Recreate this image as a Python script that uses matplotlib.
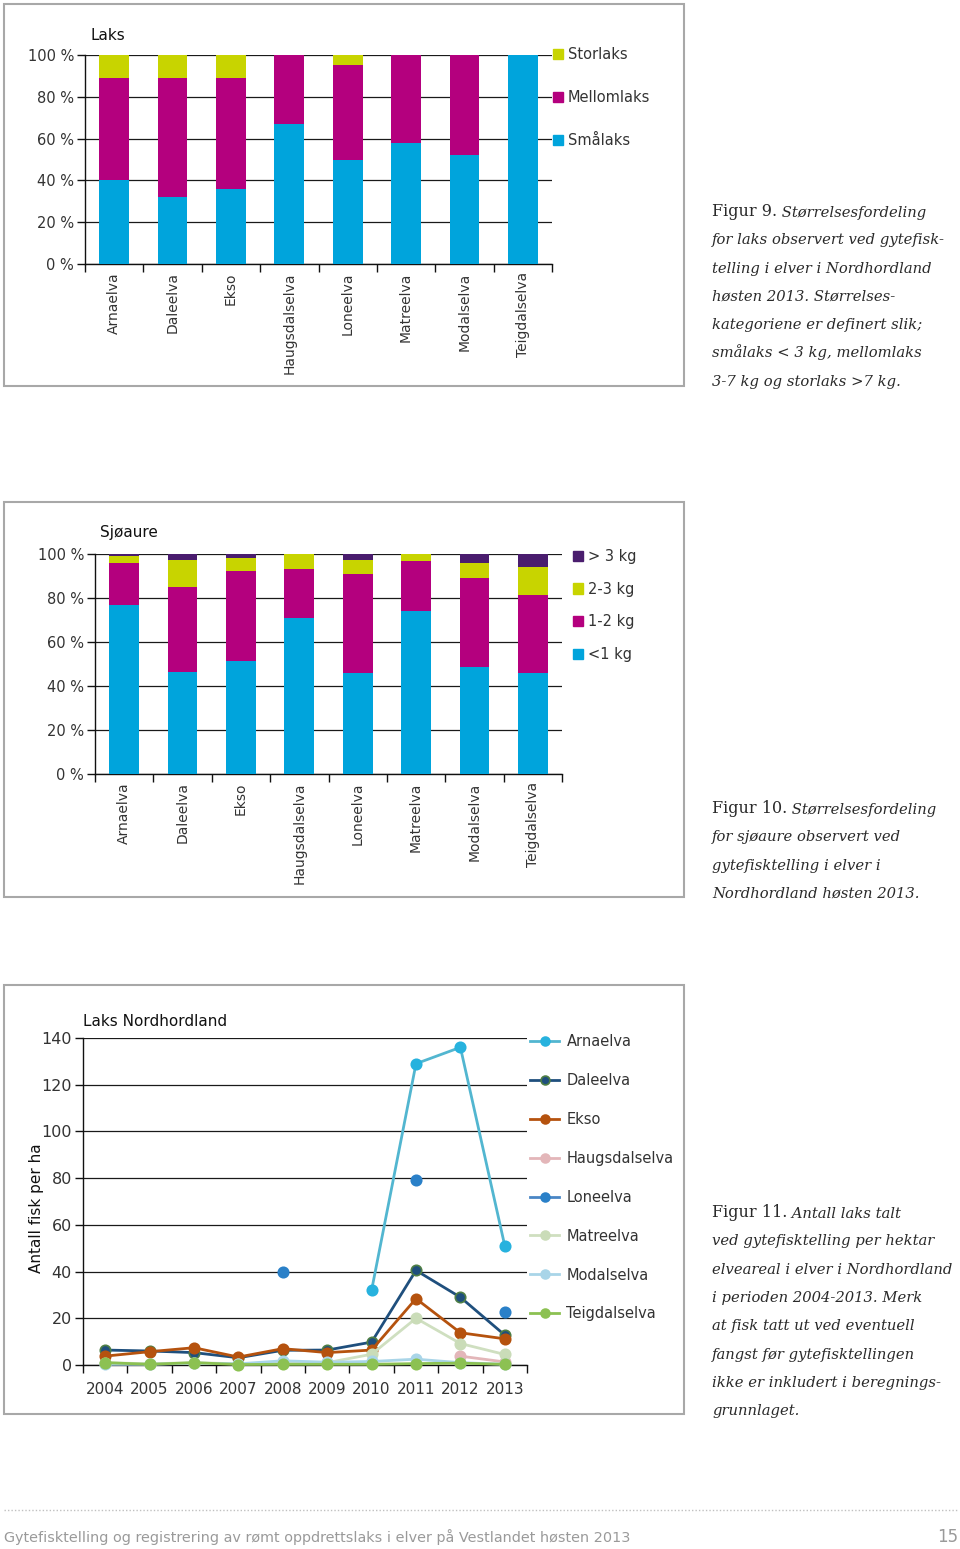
import numpy as np
import matplotlib
matplotlib.use("Agg")
import matplotlib.pyplot as plt
from matplotlib.patches import Patch, Rectangle
from matplotlib.lines import Line2D

plt.rcParams['font.family'] = ['DejaVu Sans']

# Figur 9 - laks
rivers = ["Arnaelva", "Daleelva", "Ekso", "Haugsdalselva",
          "Loneelva", "Matreelva", "Modalselva", "Teigdalselva"]
smalaks = [40, 32, 36, 67, 50, 58, 52, 100]
mellomlaks = [49, 57, 53, 33, 45, 42, 48, 0]
storlaks = [11, 11, 11, 0, 5, 0, 0, 0]

# Figur 10 - sjøaure
under1 = [76.7, 46.5, 51.5, 70.8, 45.8, 74.1, 48.5, 45.8]
kg1_2 = [19.1, 38.7, 41.0, 22.6, 45.2, 22.6, 40.8, 35.4]
kg2_3 = [3.3, 12.2, 5.8, 6.6, 6.4, 3.3, 6.5, 12.9]
over3 = [0.9, 2.6, 1.7, 0.0, 2.6, 0.0, 4.2, 5.9]

# Figur 11 - antall laks per ha
years = ["2004", "2005", "2006", "2007", "2008", "2009", "2010", "2011", "2012", "2013"]
nan = np.nan
arnaelva = [nan, nan, nan, nan, nan, nan, 32, 129, 136, 51]
daleelva = [6.4, 6.0, 5.3, 3.1, 6.3, 6.4, 9.8, 40.5, 29, 12.8]
ekso = [3.8, 5.7, 7.4, 3.4, 7.0, 5.3, 6.4, 28.4, 13.8, 11.2]
haugsdalselva = [nan, nan, nan, nan, nan, nan, nan, nan, 3.8, 1.3]
loneelva = [nan, nan, nan, nan, 40, nan, nan, 79.4, nan, 22.8]
matreelva = [1.0, 0.5, 1.0, 0.5, 1.0, 1.0, 4.6, 20, 9.2, 4.5]
modalselva = [0.3, 0.3, 0.8, 0.5, 1.8, 1.2, 1.5, 2.5, 1.0, 0.3]
teigdalselva = [1.0, 0.3, 1.0, 0.2, 0.3, 0.3, 0.3, 0.6, 0.8, 0.3]

W, H = 960, 1549
fig = plt.figure(figsize=(W / 100, H / 100), dpi=100)


def fx(x):
    return x / W


def fy(y):
    return 1 - y / H


def add_ax(left, top, right, bottom):
    return fig.add_axes([fx(left), fy(bottom), (right - left) / W, (bottom - top) / H])


def style_axes(ax, ncat):
    ax.set_xlim(-0.5, ncat - 0.5)
    for s in ["top", "right"]:
        ax.spines[s].set_visible(False)
    for s in ["left", "bottom"]:
        ax.spines[s].set_color("#111")
        ax.spines[s].set_linewidth(1.0)
    ax.yaxis.grid(True, color="#1a1a1a", lw=0.9)
    ax.set_axisbelow(True)
    ax.set_xticks(np.arange(-0.5, ncat, 1), minor=True)
    ax.tick_params(axis="x", which="minor", length=6, width=1, color="#111")
    ax.tick_params(axis="y", length=6, width=1, color="#111", labelsize=10.5,
                   labelcolor="#333", pad=2)


txt = "#333333"
c_blue, c_mag, c_yel, c_pur = "#00a4dc", "#b4007e", "#c8d400", "#4a1d6e"

# ---- chart 1
ax1 = add_ax(85, 55, 552, 264)
x = np.arange(len(rivers))
ax1.bar(x, smalaks, 0.51, color=c_blue, zorder=3)
ax1.bar(x, mellomlaks, 0.51, bottom=smalaks, color=c_mag, zorder=3)
ax1.bar(x, storlaks, 0.51, bottom=np.add(smalaks, mellomlaks), color=c_yel, zorder=3)
style_axes(ax1, len(rivers))
ax1.set_ylim(0, 100)
ax1.set_yticks(range(0, 101, 20))
ax1.set_yticklabels([f"{v} %" for v in range(0, 101, 20)])
ax1.set_xticks(x)
ax1.set_xticklabels(rivers, rotation=90, fontsize=10, color=txt)
ax1.tick_params(axis="x", which="major", length=0, pad=6)
ax1.text(fx(91), fy(36), "Laks", transform=fig.transFigure, fontsize=11,
         va="center", ha="left", color="#111")
ax1.legend([Patch(color=c_yel), Patch(color=c_mag), Patch(color=c_blue)],
           ["Storlaks", "Mellomlaks", "Smålaks"],
           loc="upper left", bbox_to_anchor=(fx(553), fy(47)),
           bbox_transform=fig.transFigure, frameon=False, fontsize=10.5,
           handlelength=0.7, handleheight=0.7, handletextpad=0.3,
           labelspacing=1.92, borderpad=0, borderaxespad=0, labelcolor=txt)

# ---- chart 2
ax2 = add_ax(95, 554, 562, 774)
ax2.bar(x, under1, 0.51, color=c_blue, zorder=3)
b = np.array(under1)
ax2.bar(x, kg1_2, 0.51, bottom=b, color=c_mag, zorder=3)
b = b + np.array(kg1_2)
ax2.bar(x, kg2_3, 0.51, bottom=b, color=c_yel, zorder=3)
b = b + np.array(kg2_3)
ax2.bar(x, over3, 0.51, bottom=b, color=c_pur, zorder=3)
style_axes(ax2, len(rivers))
ax2.set_ylim(0, 100)
ax2.set_yticks(range(0, 101, 20))
ax2.set_yticklabels([f"{v} %" for v in range(0, 101, 20)])
ax2.set_xticks(x)
ax2.set_xticklabels(rivers, rotation=90, fontsize=10, color=txt)
ax2.tick_params(axis="x", which="major", length=0, pad=6)
ax2.text(fx(100), fy(533), "Sjøaure", transform=fig.transFigure, fontsize=11,
         va="center", ha="left", color="#111")
ax2.legend([Patch(color=c_pur), Patch(color=c_yel), Patch(color=c_mag), Patch(color=c_blue)],
           ["> 3 kg", "2-3 kg", "1-2 kg", "<1 kg"],
           loc="upper left", bbox_to_anchor=(fx(573), fy(549)),
           bbox_transform=fig.transFigure, frameon=False, fontsize=10.5,
           handlelength=0.7, handleheight=0.7, handletextpad=0.3,
           labelspacing=1.21, borderpad=0, borderaxespad=0, labelcolor=txt)

# ---- chart 3
ax3 = add_ax(83, 1038, 527, 1365)
series = [
    ("Arnaelva", arnaelva, "#52b6d0", "#27b2de", "#27b2de"),
    ("Daleelva", daleelva, "#1f4f7d", "#1f4f7d", "#4f7f45"),
    ("Ekso", ekso, "#b5520e", "#b5520e", "#b5520e"),
    ("Haugsdalselva", haugsdalselva, "#e3b6b9", "#e3b6b9", "#e3b6b9"),
    ("Loneelva", loneelva, "#4a86c5", "#2a80c8", "#2a80c8"),
    ("Matreelva", matreelva, "#cfdfc0", "#cadcb8", "#cadcb8"),
    ("Modalselva", modalselva, "#a9d5e8", "#a9d5e8", "#a9d5e8"),
    ("Teigdalselva", teigdalselva, "#8cc152", "#8cc152", "#8cc152"),
]
xi = np.arange(len(years))
for name, vals, lc, mc, ec in series:
    ax3.plot(xi, vals, color=lc, lw=2.0, marker="o", markersize=7.5,
             markerfacecolor=mc, markeredgecolor=ec, markeredgewidth=1.2,
             label=name, clip_on=False, zorder=3)
style_axes(ax3, len(years))
ax3.set_ylim(0, 140)
ax3.set_yticks(range(0, 141, 20))
ax3.set_xticks(xi)
ax3.set_xticklabels(years, fontsize=11, color=txt)
ax3.tick_params(axis="x", which="major", length=0, pad=12)
ax3.tick_params(axis="y", labelsize=11.5)
fig.text(fx(37), fy(1208), "Antall fisk per ha", rotation=90, ha="center",
         va="center", fontsize=11, color="#111")
ax3.text(fx(83), fy(1022), "Laks Nordhordland", transform=fig.transFigure,
         fontsize=11, va="center", ha="left", color="#111")
ax3.legend(loc="upper left", bbox_to_anchor=(fx(530), fy(1034)),
           bbox_transform=fig.transFigure, frameon=False, fontsize=10.5,
           handlelength=2.0, handletextpad=0.5, labelspacing=1.64,
           borderpad=0, borderaxespad=0, labelcolor=txt, markerscale=0.85)

# ---- panel frames
for top, bottom in [(4, 386), (502, 897), (985, 1414)]:
    fig.add_artist(Rectangle((fx(4), fy(bottom)), 680 / W, (bottom - top) / H,
                             transform=fig.transFigure, fill=False,
                             ec="#a8a8a8", lw=1.5))

# ---- captions
captions = [
    (216, "Figur 9.", ["Størrelsesfordeling",
                       "for laks observert ved gytefisk-",
                       "telling i elver i Nordhordland",
                       "høsten 2013. Størrelses-",
                       "kategoriene er definert slik;",
                       "smålaks < 3 kg, mellomlaks",
                       "3-7 kg og storlaks >7 kg."]),
    (813, "Figur 10.", ["Størrelsesfordeling",
                        "for sjøaure observert ved",
                        "gytefisktelling i elver i",
                        "Nordhordland høsten 2013."]),
    (1217, "Figur 11.", ["Antall laks talt",
                         "ved gytefisktelling per hektar",
                         "elveareal i elver i Nordhordland",
                         "i perioden 2004-2013. Merk",
                         "at fisk tatt ut ved eventuell",
                         "fangst før gytefisktellingen",
                         "ikke er inkludert i beregnings-",
                         "grunnlaget."]),
]
cap_kw = dict(fontsize=10.6, color="#2a2a2a", family="DejaVu Serif")
for y0, head, lines in captions:
    t = fig.text(fx(712), fy(y0), head, va="baseline", ha="left",
                 fontsize=11.5, color="#2a2a2a", family="DejaVu Serif")
    ax3.annotate(" " + lines[0], xy=(1, 0), xycoords=t, va="bottom",
                 ha="left", style="italic", **cap_kw)
    for i, ln in enumerate(lines[1:], start=1):
        fig.text(fx(712), fy(y0 + i * 28.3), ln, va="baseline", ha="left",
                 style="italic", **cap_kw)

# ---- footer
fig.add_artist(Line2D([fx(4), fx(958)], [fy(1510), fy(1510)], transform=fig.transFigure,
                      color="#c0c0c0", lw=1, ls=(0, (1, 1.5))))
fig.text(fx(4), fy(1537),
         "Gytefisktelling og registrering av rømt oppdrettslaks i elver på Vestlandet høsten 2013",
         ha="left", va="center", fontsize=10.4, color="#9a9a9a")
fig.text(fx(958), fy(1537), "15", ha="right", va="center", fontsize=12, color="#9a9a9a")

fig.savefig("out.png", dpi=100)
